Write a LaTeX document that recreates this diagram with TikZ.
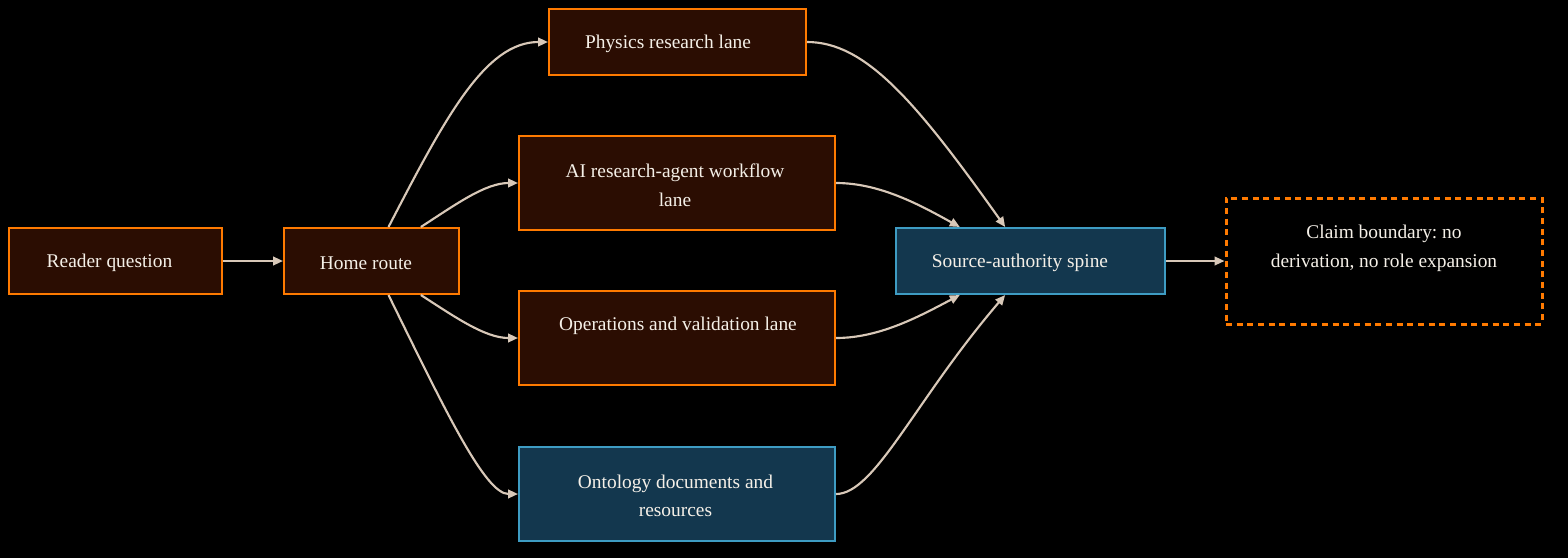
\documentclass[tikz,border=0pt]{standalone}
\usepackage{fontspec}
\setmainfont{Liberation Serif}
\usetikzlibrary{arrows.meta}
\frenchspacing
\definecolor{bg}{HTML}{000000}
\definecolor{obord}{HTML}{FF7A00}
\definecolor{ofill}{HTML}{2B0D02}
\definecolor{bbord}{HTML}{3E9CC3}
\definecolor{bfill}{HTML}{13374E}
\definecolor{edgec}{HTML}{D8C8B8}
\definecolor{txt}{HTML}{F5F0E8}
\tikzset{
  obox/.style={draw=obord, fill=ofill, line width=1.5pt, rectangle, inner sep=0pt},
  bbox/.style={draw=bbord, fill=bfill, line width=1.5pt, rectangle, inner sep=0pt},
  dbox/.style={draw=obord, line width=2.25pt, dash pattern=on 4.5pt off 3.5pt, rectangle, inner sep=0pt},
  lbl/.style={text=txt, font=\fontsize{14.55pt}{21.4pt}\selectfont, align=center, inner sep=0pt, yshift=-1.5pt},
  conn/.style={draw=edgec, line width=1.6pt, -{Triangle[length=7.5pt,width=6.5pt]}}
}
\begin{document}
\begin{tikzpicture}[x=0.75pt,y=-0.75pt]
\fill[bg] (0,0) rectangle (1568,558);
\useasboundingbox (0,0) rectangle (1568,558);
% boxes
\node[obox, minimum width=213*0.75pt, minimum height=66*0.75pt] (reader) at (115.5,261) {};
\node[obox, minimum width=175*0.75pt, minimum height=66*0.75pt] (home) at (371.5,261) {};
\node[obox, minimum width=257*0.75pt, minimum height=66*0.75pt] (phys) at (677.5,42) {};
\node[obox, minimum width=316*0.75pt, minimum height=94*0.75pt] (ai) at (677,183) {};
\node[obox, minimum width=316*0.75pt, minimum height=94*0.75pt] (ops) at (677,338) {};
\node[bbox, minimum width=316*0.75pt, minimum height=94*0.75pt] (ont) at (677,494) {};
\node[bbox, minimum width=269*0.75pt, minimum height=66*0.75pt] (src) at (1030.5,261) {};
\node[dbox, minimum width=316*0.75pt, minimum height=126*0.75pt] (claim) at (1384,261) {};
% labels
\node[lbl] (readerT) at (109.5,261) {Reader question};
\node[lbl] (homeT) at (366,261) {Home route};
\node[lbl] (physT) at (668,42) {Physics research lane};
\node[lbl] (aiT) at (675,183) {AI research-agent workflow\\lane};
\node[lbl] (opsT) at (678,324) {Operations and validation lane};
\node[lbl] (ontT) at (675.5,494) {Ontology documents and\\resources};
\node[lbl] (srcT) at (1020,261) {Source-authority spine};
\node[lbl] (claimT) at (1384,246.5) {Claim boundary: no\\derivation, no role expansion};
% connectors
\draw[conn] (reader.east) -- (home.west);
\draw[conn] ([xshift=12.75pt]home.north) .. controls (445,118) and (485,42) .. (phys.west);
\draw[conn] ([xshift=37pt]home.north) .. controls (455,205) and (485,183) .. (ai.west);
\draw[conn] ([xshift=37pt]home.south) .. controls (455,317) and (485,338) .. (ops.west);
\draw[conn] ([xshift=12.75pt]home.south) .. controls (445,410) and (485,494) .. (ont.west);
\draw[conn] (phys.east) .. controls (865,42) and (915,100) .. ([xshift=-19pt]src.north);
\draw[conn] (ai.east) .. controls (880,183) and (920,205) .. ([xshift=-53pt]src.north);
\draw[conn] (ops.east) .. controls (880,338) and (920,316) .. ([xshift=-53pt]src.south);
\draw[conn] (ont.east) .. controls (875,494) and (915,400) .. ([xshift=-19pt]src.south);
\draw[conn] (src.east) -- (claim.west);
\end{tikzpicture}
\end{document}
